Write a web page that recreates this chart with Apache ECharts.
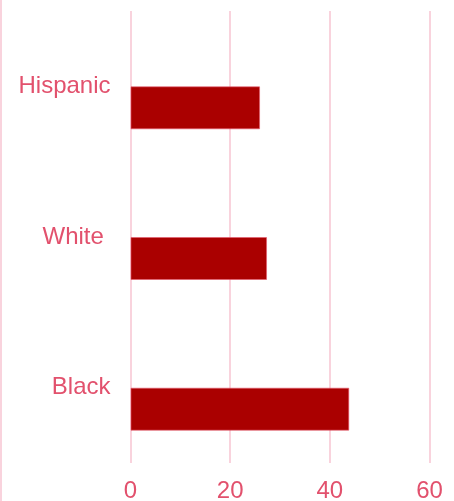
<!DOCTYPE html>
<html>
<head>
<meta charset="utf-8">
<script src="https://cdn.jsdelivr.net/npm/echarts@6/dist/echarts.min.js"></script>
<style>
html,body{margin:0;padding:0;background:#fff;}
#chart{width:454px;height:501px;}
</style>
</head>
<body>
<div id="chart"></div>
<script>
const categories = ['Hispanic', 'White ', 'Black'];
const values = [26, 27.4, 43.9];
const xTicks = [0, 20, 40, 60];

const chart = echarts.init(document.getElementById('chart'), null, {renderer: 'canvas'});
const textColor = '#e2516d';
const lineColor = '#f9d3dd';
chart.setOption({
  animation: false,
  grid: {left: 130.5, right: 24.5, top: 11, bottom: 38, containLabel: false, outerBoundsMode: 'none'},
  xAxis: {
    type: 'value', min: xTicks[0], max: xTicks[xTicks.length - 1], interval: 20,
    axisLine: {show: false}, axisTick: {show: false},
    splitLine: {show: true, lineStyle: {color: lineColor, width: 2}},
    axisLabel: {color: textColor, fontSize: 24, fontFamily: 'Liberation Sans, Arial, sans-serif', margin: 16}
  },
  yAxis: {
    type: 'category', data: categories, inverse: true,
    axisLine: {show: false}, axisTick: {show: false},
    axisLabel: {color: textColor, fontSize: 24, fontFamily: 'Liberation Sans, Arial, sans-serif', margin: 20}
  },
  series: [
    {type: 'bar', data: categories.map(() => null), barWidth: 43, barGap: '0%'},
    {type: 'bar', data: values, barWidth: 43, barGap: '0%',
     itemStyle: {color: '#aa0000', borderColor: 'rgba(230,90,110,0.6)', borderWidth: 1}}
  ],
  graphic: [{type: 'line', shape: {x1: 1, y1: 0, x2: 1, y2: 501}, style: {stroke: lineColor, lineWidth: 2}}]
});
</script>
</body>
</html>
